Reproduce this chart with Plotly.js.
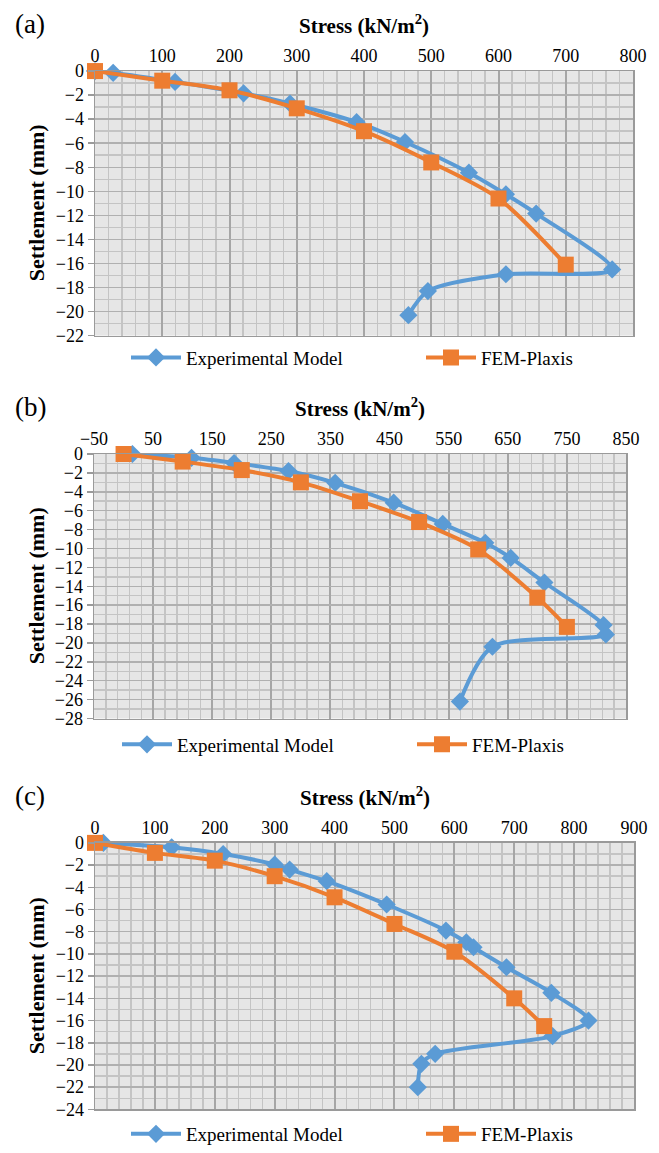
<!DOCTYPE html>
<html>
<head>
<meta charset="utf-8">
<script src="https://cdn.plot.ly/plotly-3.0.1.min.js"></script>
<style>html,body{margin:0;padding:0;background:#fff}#chart{width:659px;height:1153px}</style>
</head>
<body>
<div id="chart"></div>
<script>
// Panel (a)
const expA_x = [0, 27, 119, 221, 290, 389, 461, 556, 611, 656, 769, 611, 495, 466];
const expA_y = [0, -0.15, -0.9, -1.85, -2.7, -4.25, -5.9, -8.45, -10.25, -11.85, -16.5, -16.9, -18.3, -20.3];
const femA_x = [0, 100, 200, 300, 400, 500, 600, 700];
const femA_y = [0, -0.8, -1.6, -3.1, -5.0, -7.6, -10.6, -16.1];
// Panel (b)
const expB_x = [15, 115, 187, 279, 358, 457, 540, 612, 655, 712, 812, 816, 624, 569];
const expB_y = [0, -0.4, -0.95, -1.8, -3.05, -5.15, -7.4, -9.4, -11.0, -13.6, -18.1, -19.1, -20.4, -26.2];
const femB_x = [0, 100, 200, 300, 400, 500, 600, 700, 750];
const femB_y = [0, -0.8, -1.7, -3.0, -5.0, -7.2, -10.1, -15.2, -18.3];
// Panel (c)
const expC_x = [14, 128, 214, 300, 325, 387, 487, 586, 620, 632, 687, 762, 824, 764, 568, 545, 539];
const expC_y = [0, -0.4, -1.0, -1.95, -2.4, -3.45, -5.55, -7.9, -8.95, -9.4, -11.2, -13.5, -16.0, -17.4, -19.0, -19.9, -22.0];
const femC_x = [0, 100, 200, 300, 400, 500, 600, 700, 750];
const femC_y = [0, -0.9, -1.6, -3.0, -4.9, -7.3, -9.8, -14.0, -16.5];

const seriesNames = ['Experimental Model', 'FEM-Plaxis'];
const panelLabels = ['(a)', '(b)', '(c)'];
const xTitle = '<b>Stress (kN/m<sup>2</sup>)</b>';
const yTitle = '<b>Settlement (mm)</b>';

const BLUE = '#5B9BD5', ORANGE = '#ED7D31';
const FONT = 'Liberation Serif, Times New Roman, serif';
const W = 659, H = 1153;

const panels = [
  {ex: expA_x, ey: expA_y, fx: femA_x, fy: femA_y, xr: [0, 800], x0: 0, yr: [-22, 0], px: [95, 633], py: [72, 340], lx: [126, 421], ly: 343},
  {ex: expB_x, ey: expB_y, fx: femB_x, fy: femB_y, xr: [-50, 850], x0: -50, yr: [-28, 0], px: [94, 626], py: [460, 728], lx: [117, 412], ly: 735},
  {ex: expC_x, ey: expC_y, fx: femC_x, fy: femC_y, xr: [0, 900], x0: 0, yr: [-24, 0], px: [95, 634], py: [854, 1124], lx: [126, 421], ly: 1130}
];

const data = [];
const layout = {
  width: W, height: H,
  margin: {l: 0, r: 0, t: 0, b: 0},
  paper_bgcolor: '#ffffff',
  plot_bgcolor: '#e6e6e6',
  font: {family: FONT, color: '#000', size: 18},
  showlegend: true,
  annotations: []
};

let legN = 0;
function legendName() { legN += 1; return legN === 1 ? 'legend' : 'legend' + legN; }

panels.forEach((p, i) => {
  const s = i === 0 ? '' : String(i + 1);
  const xa = 'x' + s, ya = 'y' + s;
  const l1 = legendName(), l2 = legendName();
  data.push({
    x: p.ex, y: p.ey, xaxis: xa, yaxis: ya, name: seriesNames[0], legend: l1,
    mode: 'lines+markers', cliponaxis: false,
    line: {color: BLUE, width: 4, shape: 'spline', smoothing: 0.8},
    marker: {symbol: 'diamond', size: 14, color: BLUE}
  });
  data.push({
    x: p.fx, y: p.fy, xaxis: xa, yaxis: ya, name: seriesNames[1], legend: l2,
    mode: 'lines+markers', cliponaxis: false,
    line: {color: ORANGE, width: 4, shape: 'spline', smoothing: 0.8},
    marker: {symbol: 'square', size: 16, color: ORANGE}
  });
  const xd = [p.px[0] / W, p.px[1] / W];
  const yd = [1 - p.py[1] / H, 1 - p.py[0] / H];
  const tf = {family: FONT, size: 18, color: '#000'};
  layout['xaxis' + s] = {
    domain: xd, anchor: ya, side: 'top', range: p.xr, tick0: p.x0, dtick: 100,
    showgrid: true, gridcolor: '#a6a6a6', gridwidth: 2,
    minor: {tick0: p.x0, dtick: 20, showgrid: true, gridcolor: '#c4c4c4', gridwidth: 1.5},
    showline: true, linecolor: '#9a9a9a', linewidth: 1.5, mirror: true,
    ticks: '', zeroline: false, tickfont: tf,
    fixedrange: true
  };
  layout['yaxis' + s] = {
    domain: yd, anchor: xa, range: p.yr, dtick: 2,
    showgrid: true, gridcolor: '#b0b0b0', gridwidth: 1.5,
    minor: {dtick: 1, showgrid: true, gridcolor: '#c4c4c4', gridwidth: 1.5},
    showline: true, linecolor: '#9a9a9a', linewidth: 1.5, mirror: true,
    ticks: 'outside', ticklen: 6, tickcolor: '#9a9a9a', tickwidth: 1.5,
    zeroline: false, tickfont: tf,
    fixedrange: true
  };
  [l1, l2].forEach((ln, k) => {
    layout[ln] = {
      orientation: 'v', x: p.lx[k] / W, xanchor: 'left', y: 1 - p.ly / H, yanchor: 'top',
      bgcolor: 'rgba(0,0,0,0)', font: {family: FONT, size: 19, color: '#000'},
      itemwidth: 50, tracegroupgap: 0
    };
  });
  layout.annotations.push({
    text: panelLabels[i], xref: 'paper', yref: 'paper', x: 13 / W, xanchor: 'left',
    y: 1 - (p.py[0] - 48) / H, yanchor: 'middle', showarrow: false,
    font: {family: FONT, size: 27, color: '#000'}
  });
  layout.annotations.push({
    text: xTitle, xref: 'paper', yref: 'paper', x: (p.px[0] + p.px[1]) / 2 / W, xanchor: 'center',
    y: 1 - (p.py[0] - 47) / H, yanchor: 'middle', showarrow: false,
    font: {family: FONT, size: 21, color: '#000'}
  });
  layout.annotations.push({
    text: yTitle, xref: 'paper', yref: 'paper', x: 36 / W, xanchor: 'center',
    y: 1 - (p.py[0] + p.py[1]) / 2 / H, yanchor: 'middle', showarrow: false, textangle: -90,
    font: {family: FONT, size: 22, color: '#000'}
  });
});

Plotly.newPlot('chart', data, layout, {displayModeBar: false, staticPlot: true});
</script>
</body>
</html>
